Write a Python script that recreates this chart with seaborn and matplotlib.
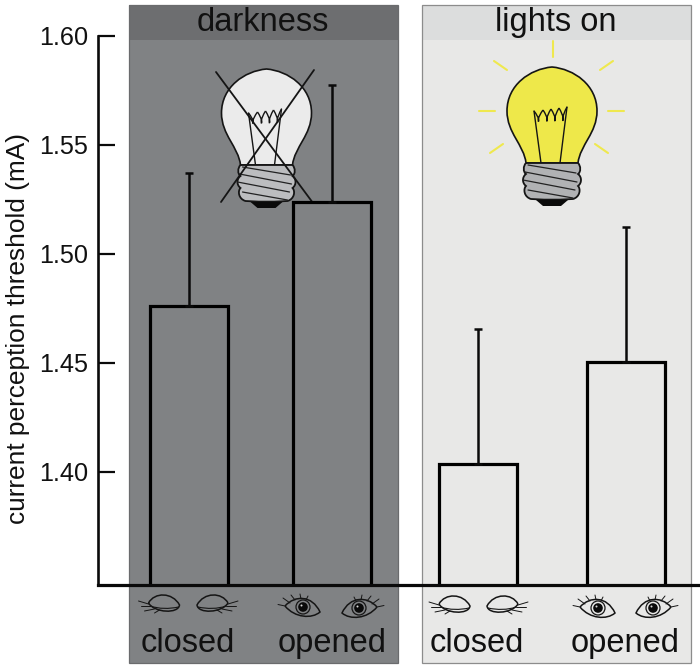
import numpy as np
import pandas as pd
import matplotlib.pyplot as plt
import seaborn as sns
from matplotlib.patches import Circle, PathPatch, Rectangle
from matplotlib.path import Path

# values
conditions = ["closed", "opened", "closed", "opened"]
panels = ["darkness", "darkness", "lights on", "lights on"]
thresholds = [1.4761, 1.5239, 1.4037, 1.4505]
error_tops = [1.5372, 1.5775, 1.4654, 1.5124]
y_ticks = [1.40, 1.45, 1.50, 1.55, 1.60]
y_tick_labels = ["1.40", "1.45", "1.50", "1.55", "1.60"]

# layout, in pixels of the 700x668 picture
W, H = 700, 668
bar_x = [188.5, 332, 478, 626]
PX_PER_UNIT = 2180
Y_BASE = 1.40 - 113 / PX_PER_UNIT
Y_TOP = 1.60 + 36 / PX_PER_UNIT

sns.set_theme(style="white")
plt.rcParams["font.family"] = ["Liberation Sans", "DejaVu Sans"]
TXT = "#111111"

fig = plt.figure(figsize=(W / 100, H / 100), dpi=100, facecolor="white")

# backdrop axes works in picture pixels
bg = fig.add_axes([0, 0, 1, 1], zorder=0)
bg.set_xlim(0, W)
bg.set_ylim(H, 0)
bg.axis("off")


def panel(x0, x1, body, head, edge):
    bg.add_patch(Rectangle((x0, 5), x1 - x0, 658, fc=body, ec="none"))
    bg.add_patch(Rectangle((x0, 5), x1 - x0, 35, fc=head, ec="none"))
    bg.add_patch(Rectangle((x0, 5), x1 - x0, 658, fc="none", ec=edge, lw=0.9))


def curve(points, **kw):
    # points: start, then triples of bezier points
    codes = [Path.MOVETO] + [Path.CURVE4] * (len(points) - 1)
    bg.add_patch(PathPatch(Path(points, codes), **kw))


def bulb(cx, top, glass, thread):
    def p(pts):
        return [(cx + a, top + b) for a, b in pts]

    curve(p([(-26, 96), (-28, 78), (-45, 66), (-45, 44), (-45, 18), (-22, 2), (0, 0),
             (22, 2), (45, 18), (45, 44), (45, 66), (28, 78), (26, 96), (0, 96), (0, 96), (-26, 96)]),
          fc=glass, ec="#151515", lw=1.2, zorder=2)
    # filament
    for a, b in [((-11, 96), (-18, 44)), ((8, 96), (15, 40))]:
        bg.plot(*zip(*p([a, b])), color="#151515", lw=1.0, zorder=3)
    peaks = [(-18, 44), (-9, 43), (-1, 42), (7, 41), (15, 40)]
    for (x0, y0), (x1, y1) in zip(peaks[:-1], peaks[1:]):
        curve(p([(x0, y0), (x1 + 2, 58), (x0 - 2, 58), (x1, y1)]), fc="none", ec="#151515", lw=1.0, zorder=3)
    # screw base
    curve(p([(-26, 96), (-29, 99), (-29, 105), (-26, 107), (-30, 110), (-30, 116), (-26, 119),
             (-29, 122), (-28, 130), (-21, 132), (0, 133), (0, 133), (21, 132), (28, 130), (29, 122), (26, 119),
             (30, 116), (30, 110), (26, 107), (29, 105), (29, 99), (26, 96), (0, 96), (0, 96), (-26, 96)]),
          fc=thread, ec="#151515", lw=1.3, zorder=3)
    for a, b in [((-24, 98), (24, 106)), ((-27, 105), (25, 115)), ((-29, 113), (23, 123)), ((-24, 123), (21, 131))]:
        bg.plot(*zip(*p([a, b])), color="#222222", lw=0.9, zorder=4)
    bg.fill(*zip(*p([(-16, 133), (16, 133), (9, 139), (-9, 139)])), color="#0a0a0a", lw=0, zorder=3)


def closed_eye(cx, cy, flip=1):
    def p(pts):
        return [(cx + flip * a, cy + b) for a, b in pts]

    curve(p([(-15, 0), (-9, -11), (9, -11), (16, 2), (15, 11), (-9, 10), (-15, 0)]),
          fc="none", ec="#151515", lw=1.1, zorder=3)
    curve(p([(-13, 3), (-5, 6), (6, 6), (15, 4)]), fc="none", ec="#151515", lw=0.8, zorder=3)
    for a, b in [((-25, -2), (-15, 1)), ((-23, 3), (-13, 3)), ((-19, 8), (-9, 6)), ((-9, 10), (-4, 7))]:
        bg.plot(*zip(*p([a, b])), color="#151515", lw=0.7, zorder=3)


def open_eye(cx, cy, flip=1):
    def p(pts):
        return [(cx + flip * a, cy + b) for a, b in pts]

    curve(p([(-18, -1), (-8, -12), (9, -12), (17, 5), (9, 12), (-8, 11), (-18, -1)]),
          fc="none", ec="#151515", lw=1.1, zorder=3)
    bg.add_patch(Circle((cx, cy), 7, fc="none", ec="#151515", lw=0.9, zorder=3))
    bg.add_patch(Circle((cx, cy), 4.8, fc="#0a0a0a", ec="none", zorder=3))
    bg.add_patch(Circle((cx - 1.5, cy - 1.5), 1.0, fc="#d8d8d8", ec="none", zorder=4))
    for a, b in [((-25, -2.5), (-18, -1)), ((-20, -9), (-13, -4)), ((-12, -12), (-8, -7)),
                 ((-3, -13), (-2, -8)), ((5, -11), (3, -7))]:
        bg.plot(*zip(*p([a, b])), color="#151515", lw=0.7, zorder=3)


panel(129, 398, "#808284", "#6d6e70", "#6a6b6d")
panel(421.5, 690.5, "#e8e8e7", "#dcdddd", "#8c8c8c")

bulb(266.5, 69, "#ebebeb", "#bcbdbf")
bg.plot([216, 313], [72, 203], color="#151515", lw=1.3, zorder=5)
bg.plot([314, 221], [70, 202], color="#151515", lw=1.3, zorder=5)

bulb(552, 67, "#eee84a", "#b1b2b4")
rays = [((552.5, 41), (552.5, 57)), ((494, 61), (507, 70)), ((613, 61), (600, 70)), ((479, 111), (495, 111)),
        ((608, 111), (624, 111)), ((490, 153), (503, 144)), ((608, 153), (595, 144))]
for a, b in rays:
    bg.plot(*zip(a, b), color="#efe84e", lw=1.5, zorder=2)

closed_eye(163.5, 603)
closed_eye(213, 603, flip=-1)
open_eye(303, 607)
open_eye(359, 608, flip=-1)
closed_eye(454, 604)
closed_eye(503, 604, flip=-1)
open_eye(598, 608)
open_eye(653, 608, flip=-1)

bg.text(263, 31, "darkness", fontsize=23.5, ha="center", va="baseline", color=TXT)
bg.text(556, 31, "lights on", fontsize=23.5, ha="center", va="baseline", color=TXT)
for x, label in zip([187.5, 332, 476.5, 625.5], conditions):
    bg.text(x, 652, label, fontsize=23.5, ha="center", va="baseline", color=TXT)

# bars and axis sit in a transparent axes on top of the backdrop
ax = fig.add_axes([98 / W, (H - 585) / H, (W - 98) / W, 585 / H], zorder=1)
ax.patch.set_alpha(0)

df = pd.DataFrame({"x": bar_x, "threshold": thresholds, "panel": panels})
sns.barplot(data=df, x="x", y="threshold", native_scale=True, width=78 / 143.5, fill=False,
            color="black", linewidth=2.3, errorbar=None, ax=ax)
heights = np.array(thresholds)
ax.errorbar(bar_x, heights, yerr=[np.zeros(4), np.array(error_tops) - heights], fmt="none",
            ecolor="#0a0a0a", elinewidth=1.8, capsize=3.2, capthick=1.8)

ax.set_xlim(98, W)
ax.set_ylim(Y_BASE, Y_TOP)
ax.set_xticks([])
ax.set_xlabel("")
ax.set_yticks(y_ticks)
ax.set_yticklabels(y_tick_labels, fontsize=18.2, color=TXT)
ax.tick_params(axis="y", direction="in", length=12.5, width=1.6, color="#0a0a0a", pad=7, left=True)
ax.set_ylabel("current perception threshold (mA)", fontsize=18.9, color=TXT)
ax.yaxis.set_label_coords(-0.113, 0.439)
sns.despine(ax=ax, top=True, right=True)
ax.spines["left"].set_bounds(Y_BASE, 1.60)
ax.spines["left"].set_linewidth(1.9)
ax.spines["left"].set_color("#0a0a0a")
ax.spines["bottom"].set_linewidth(2.3)
ax.spines["bottom"].set_color("#0a0a0a")

fig.savefig("out.png", dpi=100)
plt.close(fig)
